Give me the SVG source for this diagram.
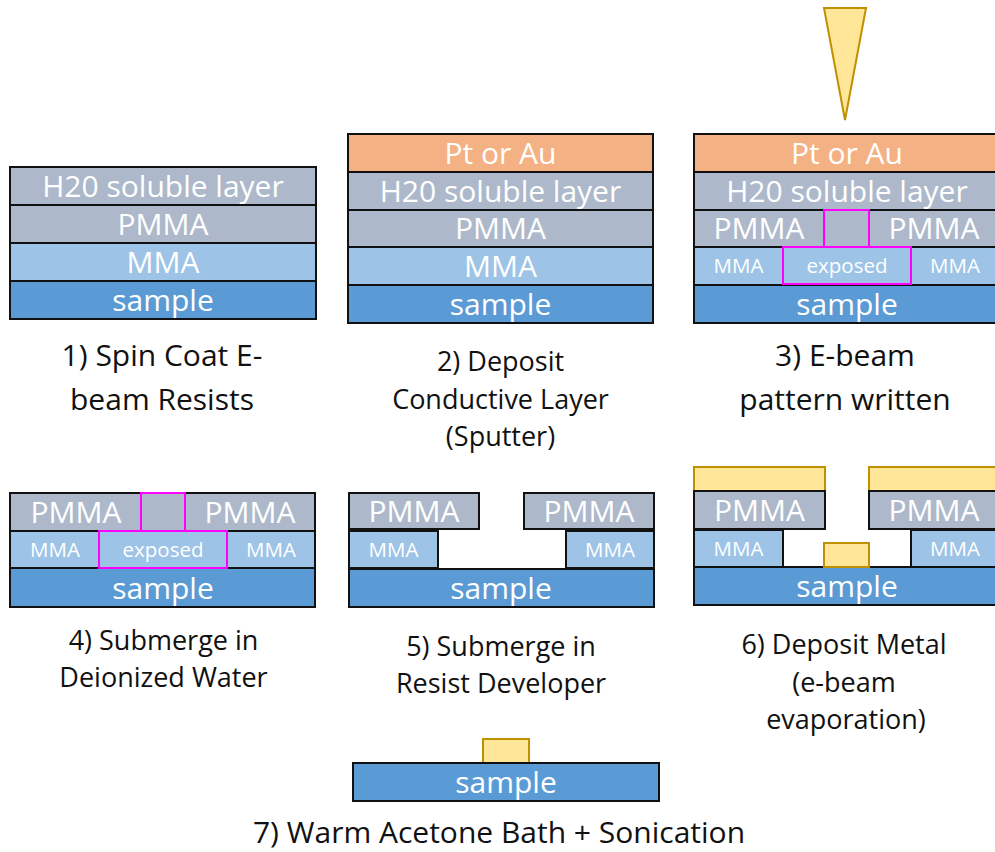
<svg xmlns="http://www.w3.org/2000/svg" width="995" height="852" viewBox="0 0 995 852">
<style>
rect{stroke:#111;stroke-width:2}
rect.bg{stroke:none;fill:#fff}
.h2o,.pmma{fill:#ADB9CA}
.mma{fill:#9DC3E6}
.smp{fill:#5B9BD5}
.pt{fill:#F4B183}
.gold{fill:#FFE699;stroke:#BF9000}
.exp{stroke:#FF00FF}
text{font-family:"Open Sans","Liberation Sans",sans-serif;text-anchor:middle}
.lbl{fill:#fff;font-size:30px}
.lbs{fill:#fff;font-size:20.5px}
.cap{fill:#111;font-size:27px}
.capL{fill:#111;font-size:30px}
</style>
<rect class="bg" width="995" height="852"/>

<g id="step1">
<rect class="h2o" x="10" y="167" width="306" height="38"/>
<rect class="pmma" x="10" y="205" width="306" height="38"/>
<rect class="mma" x="10" y="243" width="306" height="38"/>
<rect class="smp" x="10" y="281" width="306" height="38"/>
<text class="lbl" x="163" y="197">H20 soluble layer</text>
<text class="lbl" x="163" y="235">PMMA</text>
<text class="lbl" x="163" y="273">MMA</text>
<text class="lbl" x="163" y="311">sample</text>
<text class="capL" x="162" y="366">1) Spin Coat E-</text>
<text class="capL" x="162" y="410">beam Resists</text>
</g>

<g id="step2">
<rect class="pt" x="348" y="134" width="305" height="38"/>
<rect class="h2o" x="348" y="172" width="305" height="38"/>
<rect class="pmma" x="348" y="210" width="305" height="37"/>
<rect class="mma" x="348" y="247" width="305" height="38"/>
<rect class="smp" x="348" y="285" width="305" height="38"/>
<text class="lbl" x="500.5" y="164">Pt or Au</text>
<text class="lbl" x="500.5" y="202">H20 soluble layer</text>
<text class="lbl" x="500.5" y="239">PMMA</text>
<text class="lbl" x="500.5" y="277">MMA</text>
<text class="lbl" x="500.5" y="315">sample</text>
<text class="cap" x="500.5" y="371">2) Deposit</text>
<text class="cap" x="500.5" y="408.5">Conductive Layer</text>
<text class="cap" x="500.5" y="446">(Sputter)</text>
</g>

<g id="step3">
<polygon points="824,8 866,8 845,120" fill="#FFE699" stroke="#BF9000" stroke-width="2"/>
<rect class="pt" x="694" y="134" width="306" height="38"/>
<rect class="h2o" x="694" y="172" width="306" height="38"/>
<rect class="pmma" x="694" y="210" width="130" height="37"/>
<rect class="pmma" x="869" y="210" width="131" height="37"/>
<rect class="mma" x="694" y="247" width="89" height="38"/>
<rect class="mma" x="911" y="247" width="89" height="38"/>
<rect class="smp" x="694" y="285" width="306" height="38"/>
<rect class="pmma exp" x="824" y="210" width="45" height="37"/>
<rect class="mma exp" x="783" y="247" width="128" height="37"/>
<text class="lbl" x="847" y="164">Pt or Au</text>
<text class="lbl" x="847" y="202">H20 soluble layer</text>
<text class="lbl" x="759" y="239">PMMA</text>
<text class="lbl" x="934" y="239">PMMA</text>
<text class="lbs" x="738.5" y="273">MMA</text>
<text class="lbs" x="847" y="273">exposed</text>
<text class="lbs" x="955" y="273">MMA</text>
<text class="lbl" x="847" y="315">sample</text>
<text class="capL" x="845" y="366">3) E-beam</text>
<text class="capL" x="845" y="410">pattern written</text>
</g>

<g id="step4">
<rect class="pmma" x="10" y="493" width="131" height="38"/>
<rect class="pmma" x="185" y="493" width="130" height="38"/>
<rect class="mma" x="10" y="531" width="89" height="37"/>
<rect class="mma" x="227" y="531" width="88" height="37"/>
<rect class="smp" x="10" y="568" width="305" height="39"/>
<rect class="pmma exp" x="141" y="493" width="44" height="38"/>
<rect class="mma exp" x="99" y="531" width="128" height="37"/>
<text class="lbl" x="76" y="523">PMMA</text>
<text class="lbl" x="250" y="523">PMMA</text>
<text class="lbs" x="55" y="557">MMA</text>
<text class="lbs" x="163" y="557">exposed</text>
<text class="lbs" x="271" y="557">MMA</text>
<text class="lbl" x="163" y="599">sample</text>
<text class="cap" x="163.5" y="650">4) Submerge in</text>
<text class="cap" x="163.5" y="687">Deionized Water</text>
</g>

<g id="step5">
<rect class="pmma" x="349" y="493" width="130" height="36"/>
<rect class="pmma" x="524" y="493" width="130" height="36"/>
<rect class="mma" x="349" y="531" width="89" height="37"/>
<rect class="mma" x="566" y="531" width="88" height="37"/>
<rect class="smp" x="349" y="569" width="305" height="38"/>
<text class="lbl" x="414" y="522">PMMA</text>
<text class="lbl" x="589" y="522">PMMA</text>
<text class="lbs" x="393.5" y="557">MMA</text>
<text class="lbs" x="610" y="557">MMA</text>
<text class="lbl" x="501" y="599">sample</text>
<text class="cap" x="501" y="656">5) Submerge in</text>
<text class="cap" x="501" y="693">Resist Developer</text>
</g>

<g id="step6">
<rect class="gold" x="694" y="467" width="131" height="24"/>
<rect class="gold" x="869" y="467" width="131" height="24"/>
<rect class="pmma" x="694" y="491" width="131" height="38"/>
<rect class="pmma" x="869" y="491" width="131" height="38"/>
<rect class="mma" x="694" y="530" width="89" height="37"/>
<rect class="mma" x="911" y="530" width="89" height="37"/>
<rect class="smp" x="694" y="567" width="306" height="38"/>
<rect class="gold" x="824" y="543" width="45" height="24"/>
<text class="lbl" x="759.5" y="521">PMMA</text>
<text class="lbl" x="934" y="521">PMMA</text>
<text class="lbs" x="738.5" y="556">MMA</text>
<text class="lbs" x="955" y="556">MMA</text>
<text class="lbl" x="847" y="597">sample</text>
<text class="cap" x="844" y="654">6) Deposit Metal</text>
<text class="cap" x="844" y="692">(e-beam</text>
<text class="cap" x="846" y="729">evaporation)</text>
</g>

<g id="step7">
<rect class="gold" x="483" y="739" width="46" height="24"/>
<rect class="smp" x="353" y="763" width="306" height="38"/>
<text class="lbl" x="506" y="793">sample</text>
<text class="capL" x="499" y="843">7) Warm Acetone Bath + Sonication</text>
</g>

<g id="connectors"></g>
</svg>
